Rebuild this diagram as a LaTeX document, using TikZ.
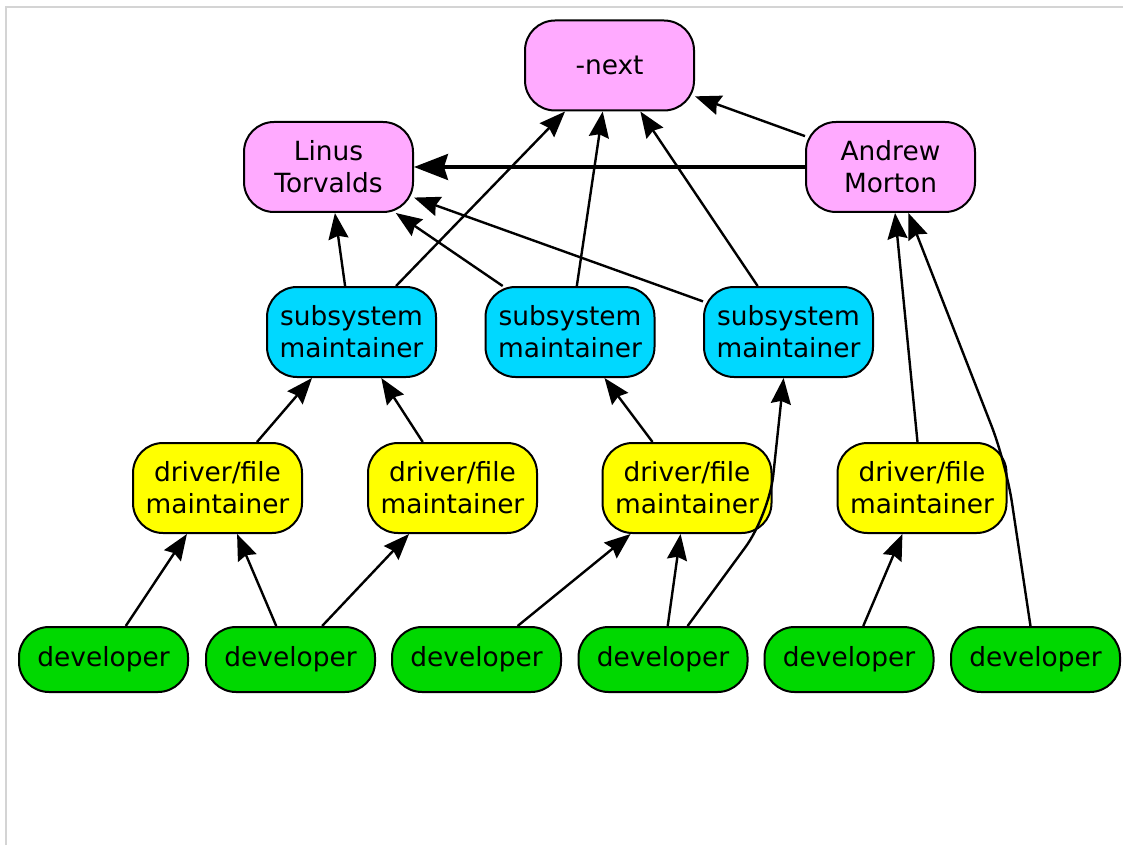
\documentclass[tikz,border=0pt]{standalone}
\usepackage{fontspec}
\setmainfont{DejaVu Sans}
\usetikzlibrary{arrows.meta}

\definecolor{leadpink}{RGB}{255,170,255}
\definecolor{subcyan}{RGB}{0,216,255}
\definecolor{drvyellow}{RGB}{255,255,0}
\definecolor{devgreen}{RGB}{0,216,0}
\definecolor{framegray}{RGB}{212,212,212}

\begin{document}
\begin{tikzpicture}[x=0.5pt, y=-0.5pt,
    box/.style={draw, line width=1pt, rounded corners=15pt, minimum width=84.5pt,
                minimum height=45pt, inner sep=0pt, align=center,
                font=\fontsize{13.2}{16}\selectfont},
    lead/.style={box, fill=leadpink},
    subsys/.style={box, fill=subcyan},
    drv/.style={box, fill=drvyellow},
    dev/.style={box, fill=devgreen, minimum height=32.5pt},
    edge/.style={line width=1.2pt, -{Stealth[length=13pt, width=10pt, inset=1.5pt]}},
    wide edge/.style={line width=1.6pt, -{Stealth[length=17pt, width=13pt, inset=2pt]}}]
\useasboundingbox (0,0) rectangle (1123,845);
\draw[framegray, line width=1pt] (6,845) -- (6,7) -- (1123,7);

% top level
\node[lead] (next)   at (609.5,65.5) {-next};
\node[lead] (linus)  at (328.5,167)  {Linus\\Torvalds};
\node[lead] (andrew) at (890.5,167)  {Andrew\\Morton};

% subsystem maintainers
\node[subsys] (sub1) at (351.5,332) {subsystem\\maintainer};
\node[subsys] (sub2) at (570,332)   {subsystem\\maintainer};
\node[subsys] (sub3) at (788.5,332) {subsystem\\maintainer};

% driver/file maintainers
\node[drv] (drv1) at (217.5,488) {driver/file\\maintainer};
\node[drv] (drv2) at (452.5,488) {driver/file\\maintainer};
\node[drv] (drv3) at (687,488)   {driver/file\\maintainer};
\node[drv] (drv4) at (922,488)   {driver/file\\maintainer};

% developers
\foreach \x [count=\i] in {103.5,290.5,476.5,663,849,1035.5}
  \node[dev] (dev\i) at (\x,659.5) {developer};

\coordinate (bendA) at (769,515);
\coordinate (bendB) at (1006,463);

\draw[edge] (andrew) -- (next);
\draw[wide edge] (andrew) -- (linus);
\draw[edge] (sub1) -- (linus);
\draw[edge] (sub1) -- (next);
\draw[edge] (sub2) -- (linus);
\draw[edge] (sub2) -- (next);
\draw[edge] (sub3) -- (linus);
\draw[edge] (sub3) -- (next);
\draw[edge] (drv1) -- (sub1);
\draw[edge] (drv2) -- (sub1);
\draw[edge] (drv3) -- (sub2);
\draw[edge] (drv4) -- (andrew);
\draw[edge] (dev1) -- (drv1);
\draw[edge] (dev2) -- (drv1);
\draw[edge] (dev2) -- (drv2);
\draw[edge] (dev3) -- (drv3);
\draw[edge] (dev4) -- (drv3);
\draw[edge] (dev5) -- (drv4);
\draw[edge, rounded corners=20pt] (dev4) -- (bendA) -- (sub3);
\draw[edge, rounded corners=20pt] (dev6) -- (bendB) -- (andrew);
\end{tikzpicture}
\end{document}
